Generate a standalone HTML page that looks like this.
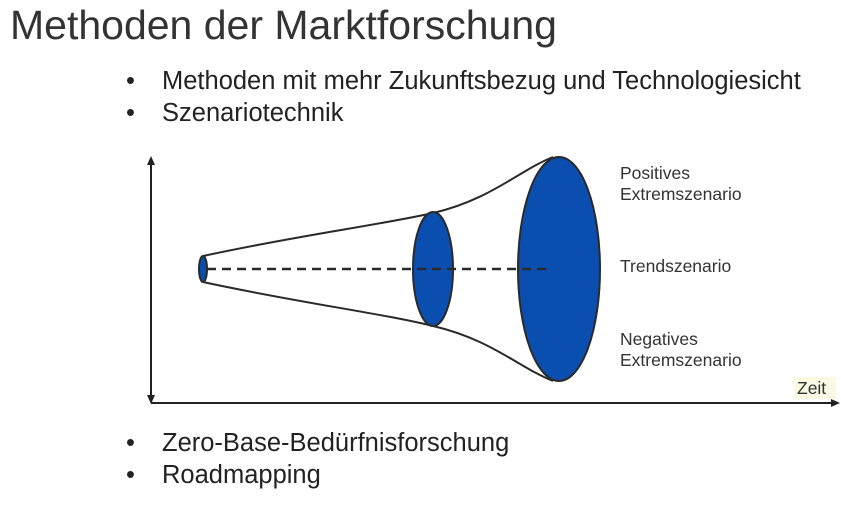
<!DOCTYPE html>
<html><head><meta charset="utf-8"><style>
body{margin:0;width:841px;height:508px;background:#fff;overflow:hidden;font-family:"Liberation Sans",sans-serif;position:relative;color:#222}
.t{position:absolute;left:10px;top:2px;font-size:41px;color:#333}
.b{position:absolute;font-size:25.5px;color:#222}
.b span{position:absolute;left:-36px}
.l{position:absolute;font-size:17.5px;color:#333;line-height:21px}
</style></head><body>
<div class="t">Methoden der Marktforschung</div>
<div class="b" style="left:162px;top:67px"><span>•</span>Methoden mit mehr Zukunftsbezug und Technologiesicht</div>
<div class="b" style="left:162px;top:99px"><span>•</span>Szenariotechnik</div>
<div class="b" style="left:162px;top:429px"><span>•</span>Zero-Base-Bedürfnisforschung</div>
<div class="b" style="left:162px;top:461px"><span>•</span>Roadmapping</div>
<svg width="841" height="508" style="position:absolute;left:0;top:0">
<rect x="794" y="377" width="42" height="22" fill="#fbf8e4"/>
<g stroke="#222" stroke-width="2" fill="#222">
<line x1="151" y1="162" x2="151" y2="398"/>
<path d="M151 156 l-4 9 h8z M151 404 l-4 -9 h8z" stroke="none"/>
<line x1="151" y1="403" x2="832" y2="403"/>
<path d="M840 403 l-9 -4 v8z" stroke="none"/>
</g>
<g stroke="#2a2a2a" stroke-width="2" fill="none">
<path d="M203 256 C300 235 380 225 433 213 C490 200 520 170 553 157"/>
<path d="M203 282 C300 303 380 313 433 326 C490 339 520 368 553 381"/>
</g>
<g fill="#0a4faf" stroke="#2a2a2a" stroke-width="2">
<ellipse cx="203" cy="269" rx="4" ry="13"/>
<ellipse cx="433" cy="269" rx="20" ry="57"/>
<ellipse cx="559" cy="269" rx="41" ry="112"/>
</g>
<line x1="207" y1="269" x2="550" y2="269" stroke="#2a2a2a" stroke-width="2.5" stroke-dasharray="9,6"/>
</svg>
<div class="l" style="left:620px;top:163px">Positives<br>Extremszenario</div>
<div class="l" style="left:620px;top:256px">Trendszenario</div>
<div class="l" style="left:620px;top:329px">Negatives<br>Extremszenario</div>
<div class="l" style="left:797px;top:378px">Zeit</div>
</body></html>
